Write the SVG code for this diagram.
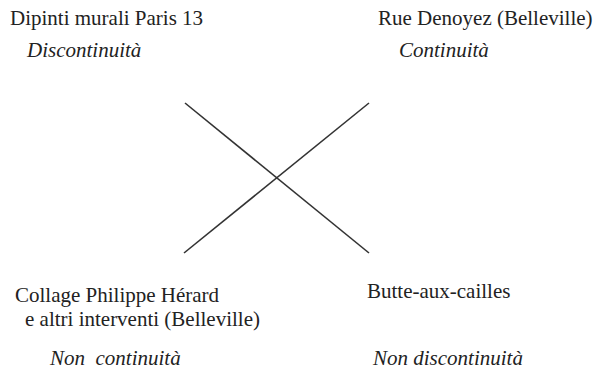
<svg xmlns="http://www.w3.org/2000/svg" width="600" height="372" viewBox="0 0 600 372">
<style>
.t{font-family:'Liberation Serif',serif;font-size:21px;fill:#222}
.i{font-style:italic}
.c{stroke:#333;stroke-width:1.6;fill:none}
</style>
<rect width="600" height="372" fill="#fff"/>
<g id="tl"><text class="t" x="10" y="25">Dipinti murali Paris 13</text><text class="t i" x="27" y="57">Discontinuità</text></g>
<g id="tr"><text class="t" x="378" y="25">Rue Denoyez (Belleville)</text><text class="t i" x="399" y="57">Continuità</text></g>
<g id="bl"><text class="t" x="15" y="302">Collage Philippe Hérard</text><text class="t" x="25" y="326">e altri interventi (Belleville)</text><text class="t i" x="50" y="365" xml:space="preserve">Non  continuità</text></g>
<g id="br"><text class="t" x="367" y="298">Butte-aux-cailles</text><text class="t i" x="373" y="365">Non discontinuità</text></g>
<g id="connectors"><line class="c" x1="185" y1="103" x2="369" y2="253"/><line class="c" x1="369" y1="103" x2="184" y2="253"/></g>
</svg>
